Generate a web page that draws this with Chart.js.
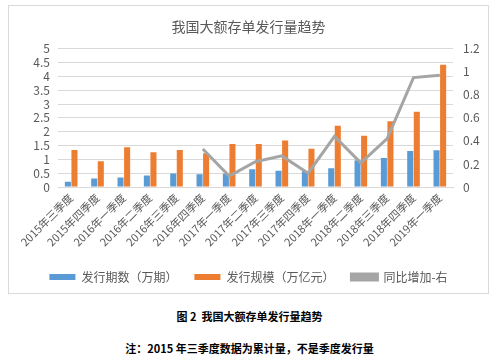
<!DOCTYPE html>
<html>
<head>
<meta charset="utf-8">
<script src="https://cdn.jsdelivr.net/npm/chart.js@4"></script>
<style>
  body { margin: 0; background: #fff; width: 499px; height: 362px; position: relative; font-family: "Noto Sans CJK SC", sans-serif; }
  #box { position: absolute; left: 8px; top: 5px; width: 479px; height: 287px; border: 1px solid #d9d9d9; }
  #box canvas { position: absolute; left: 0; top: 0; }
  .cap { position: absolute; left: 0; width: 499px; text-align: center; font-size: 11px; font-weight: bold; color: #000; }
</style>
</head>
<body>
<div id="box"><canvas id="myChart" width="479" height="287"></canvas></div>
<div class="cap" style="top:308px">图 2&nbsp; 我国大额存单发行量趋势</div>
<div class="cap" style="top:340px">注：2015 年三季度数据为累计量，不是季度发行量</div>
<script>
const quarters = ["2015年三季度", "2015年四季度", "2016年一季度", "2016年二季度", "2016年三季度",
    "2016年四季度", "2017年一季度", "2017年二季度", "2017年三季度", "2017年四季度",
    "2018年一季度", "2018年二季度", "2018年三季度", "2018年四季度", "2019年一季度"]
const issueCount = [0.19, 0.31, 0.34, 0.42, 0.49, 0.46, 0.48, 0.64, 0.59, 0.57, 0.68, 0.97, 1.05, 1.30, 1.33]
const issueScale = [1.34, 0.93, 1.44, 1.26, 1.34, 1.22, 1.56, 1.56, 1.68, 1.38, 2.22, 1.85, 2.38, 2.72, 4.42]
const yoyGrowth = [null, null, null, null, null, 0.33, 0.095, 0.22, 0.27, 0.12, 0.44, 0.21, 0.42, 0.95, 0.97]
const seriesNames = ["发行期数（万期）", "发行规模（万亿元）", "同比增加-右"]
const colors = ["#5b9bd5", "#ed7d31", "#a5a5a5"]

const ctx = document.getElementById("myChart").getContext("2d");
const fontFamily = "'Noto Sans CJK SC', sans-serif"
const fmt = (v) => String(+Number(v).toFixed(1))

new Chart(ctx, {
    data: {
        labels: quarters,
        datasets: [
            {
                type: "bar",
                label: seriesNames[0],
                data: issueCount,
                backgroundColor: colors[0],
                yAxisID: "y",
                categoryPercentage: 0.5,
                barPercentage: 0.92,
                order: 2,
            },
            {
                type: "bar",
                label: seriesNames[1],
                data: issueScale,
                backgroundColor: colors[1],
                yAxisID: "y",
                categoryPercentage: 0.5,
                barPercentage: 0.92,
                order: 2,
            },
            {
                type: "line",
                label: seriesNames[2],
                data: yoyGrowth,
                borderColor: colors[2],
                backgroundColor: colors[2],
                borderWidth: 3,
                pointRadius: 0,
                tension: 0,
                yAxisID: "y1",
                order: 1,
            },
        ],
    },
    options: {
        responsive: false,
        animation: false,
        layout: { padding: { left: 6, right: 6, top: 6, bottom: 0 } },
        plugins: {
            title: {
                display: true,
                text: "我国大额存单发行量趋势",
                color: "#595959",
                font: { family: fontFamily, size: 14, weight: "normal" },
                padding: { top: 6, bottom: 14 },
            },
            legend: {
                position: "bottom",
                labels: {
                    boxWidth: 26,
                    boxHeight: 6,
                    color: "#595959",
                    padding: 17,
                    font: { family: fontFamily, size: 12 },
                    sort: (a, b) => a.datasetIndex - b.datasetIndex,
                },
            },
            tooltip: { enabled: false },
        },
        scales: {
            x: {
                grid: { display: false, drawTicks: false },
                border: { color: "#d9d9d9" },
                afterFit: (s) => { s.height = 67 },
                ticks: {
                    color: "#595959",
                    maxRotation: 45,
                    minRotation: 45,
                    autoSkip: false,
                    padding: 4,
                    font: { family: fontFamily, size: 11 },
                },
            },
            y: {
                position: "left",
                min: 0,
                max: 5,
                afterFit: (s) => { s.width = 43 },
                ticks: { stepSize: 0.5, autoSkip: false, callback: fmt, color: "#595959", padding: 8, font: { family: fontFamily, size: 12 } },
                grid: { color: "#d9d9d9", drawTicks: false },
                border: { display: false },
            },
            y1: {
                position: "right",
                min: 0,
                max: 1.2,
                afterFit: (s) => { s.width = 29 },
                ticks: { stepSize: 0.2, autoSkip: false, callback: fmt, color: "#595959", padding: 10, font: { family: fontFamily, size: 12 } },
                grid: { display: false, drawTicks: false },
                border: { display: false },
            },
        },
    },
});
</script>
</body>
</html>
